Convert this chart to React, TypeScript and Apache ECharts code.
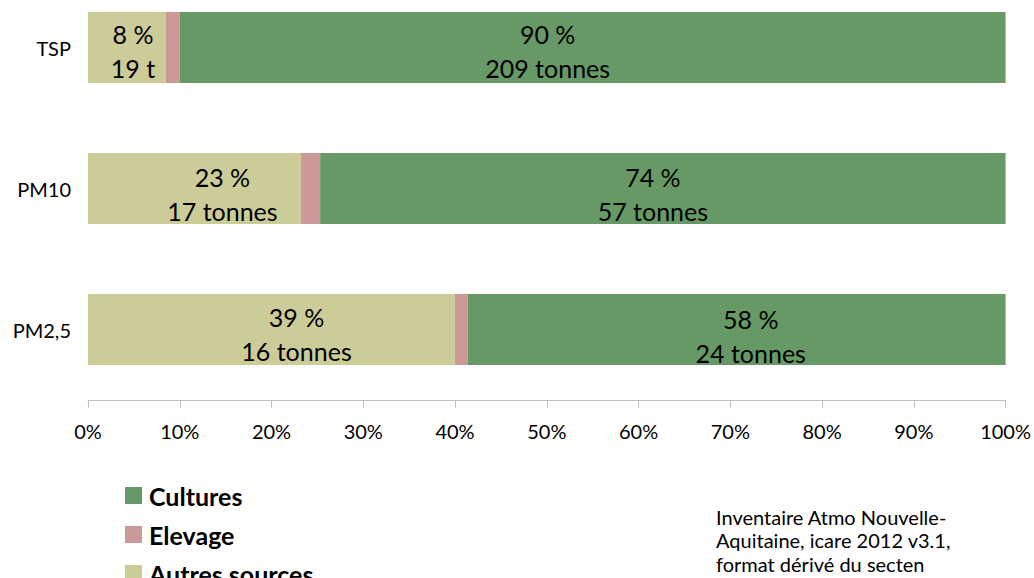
import React, { useEffect, useRef } from "react";
import * as echarts from "echarts";

const categories = ["TSP", "PM10", "PM2,5"];
const autresValues = [8.5, 23.2, 40.0];
const elevageValues = [1.5, 2.1, 1.4];
const culturesValues = [90.0, 74.7, 58.6];
const autresPct = ["8 %", "23 %", "39 %"];
const autresTonnes = ["19 t", "17 tonnes", "16 tonnes"];
const culturesPct = ["90 %", "74 %", "58 %"];
const culturesTonnes = ["209 tonnes", "57 tonnes", "24 tonnes"];
const xTicks = { min: 0, max: 100, interval: 10 };
const footnote = "Inventaire Atmo Nouvelle-\nAquitaine, icare 2012 v3.1,\nformat dérivé du secten";

// label placement tweaks (style, not data)
const autresLabelOffsets = [[6, 3], [28, 5], [25, 4]];
const culturesLabelOffsets = [[-45, 3], [-10, 5], [14, 6]];

const FONT = "Lato, 'Open Sans', sans-serif";
const SHIFT = 23; // chart canvas extends above the page

export default function App() {
  const ref = useRef<HTMLDivElement>(null);
  useEffect(() => {
    document.body.style.margin = "0";
    const chart = echarts.init(ref.current!, null, { renderer: "svg" });
    const labelStyle = {
      show: true,
      position: "inside",
      fontSize: 25,
      lineHeight: 34,
      color: "#000",
      fontFamily: FONT,
    };
    chart.setOption({
      animation: false,
      textStyle: { fontFamily: FONT },
      grid: { left: 88, right: 28, top: 0, bottom: 178, containLabel: false },
      legend: {
        data: ["Cultures", "Elevage", "Autres sources"],
        orient: "vertical",
        left: 125,
        top: 483 + SHIFT,
        padding: 0,
        height: 130,
        itemWidth: 17,
        itemHeight: 17,
        itemGap: 14,
        icon: "rect",
        textStyle: { fontSize: 25, fontWeight: "bold", color: "#000", fontFamily: FONT, lineHeight: 22, padding: [0, 0, 0, 2] },
      },
      xAxis: {
        type: "value",
        min: xTicks.min,
        max: xTicks.max,
        interval: xTicks.interval,
        axisLine: { show: true, lineStyle: { color: "#BFBFBF", width: 1 } },
        axisTick: { show: true, length: 8, lineStyle: { color: "#BFBFBF" } },
        splitLine: { show: false },
        axisLabel: { formatter: "{value}%", fontSize: 20, color: "#000", margin: 21, fontFamily: FONT },
      },
      yAxis: {
        type: "category",
        data: categories,
        inverse: true,
        axisLine: { show: false },
        axisTick: { show: false },
        axisLabel: { fontSize: 20, color: "#000", margin: 17, fontFamily: FONT },
      },
      series: [
        {
          name: "Autres sources",
          type: "bar",
          stack: "total",
          barWidth: 71,
          itemStyle: { color: "#CCCC99" },
          data: autresValues.map((v, i) => ({
            value: v,
            label: {
              ...labelStyle,
              offset: autresLabelOffsets[i],
              formatter: autresPct[i] + "\n" + autresTonnes[i],
            },
          })),
        },
        {
          name: "Elevage",
          type: "bar",
          stack: "total",
          barWidth: 71,
          itemStyle: { color: "#CC9999" },
          label: { show: false },
          data: elevageValues,
        },
        {
          name: "Cultures",
          type: "bar",
          stack: "total",
          barWidth: 71,
          itemStyle: { color: "#669966" },
          data: culturesValues.map((v, i) => ({
            value: v,
            label: {
              ...labelStyle,
              offset: culturesLabelOffsets[i],
              formatter: culturesPct[i] + "\n" + culturesTonnes[i],
            },
          })),
        },
      ],
      graphic: [
        {
          type: "text",
          left: 716,
          top: 505 + SHIFT,
          style: {
            text: footnote,
            fontSize: 20,
            lineHeight: 23.5,
            fill: "#000",
            fontFamily: FONT,
          },
        },
      ],
    });
    return () => chart.dispose();
  }, []);
  return (
    <div style={{ width: 1034, height: 578, overflow: "hidden", position: "relative" }}>
      <div ref={ref} style={{ position: "absolute", left: 0, top: -SHIFT, width: 1034, height: 578 + SHIFT }} />
    </div>
  );
}
